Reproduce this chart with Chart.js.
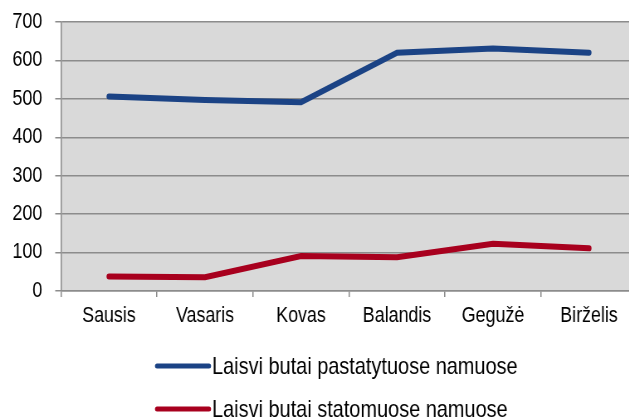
<!DOCTYPE html>
<html>
<head>
<meta charset="utf-8">
<script src="https://cdn.jsdelivr.net/npm/chart.js@4"></script>
<style>
  html, body { margin: 0; padding: 0; background: #fff; overflow: hidden; }
  /* siauresnis sriftas: visas grafikas suspaudziamas horizontaliai */
  #wrap { width: 771px; height: 419px; position: relative; transform: scaleX(0.83); transform-origin: 0 0; }
</style>
</head>
<body>
<div id="wrap"><canvas id="chart"></canvas></div>
<script>
const menesiai = ["Sausis", "Vasaris", "Kovas", "Balandis", "Gegužė", "Birželis"];
const pastatytuose = [506, 497, 491, 620, 631, 620];
const statomuose = [38, 36, 91, 88, 123, 111];
const serijuPavadinimai = ["Laisvi butai pastatytuose namuose", "Laisvi butai statomuose namuose"];
const spalvos = ["#1b4385", "#a8001e"];

const SX = 0.83;
const FONT = "'Liberation Sans', Arial, sans-serif";

// Pilkas fonas grafiko srityje
const fonas = {
    id: "fonas",
    beforeDraw(chart) {
        const a = chart.chartArea;
        const ctx = chart.ctx;
        ctx.save();
        ctx.fillStyle = "#d9d9d9";
        ctx.fillRect(a.left, a.top, a.right - a.left, a.bottom - a.top);
        ctx.restore();
    }
};

// Legenda stulpeliu, po grafiku
const legenda = {
    id: "legenda",
    afterDraw(chart) {
        const ctx = chart.ctx;
        ctx.save();
        ctx.font = "24px " + FONT;
        ctx.textBaseline = "middle";
        chart.data.datasets.forEach((ds, i) => {
            const y = 366 + i * 43;
            ctx.strokeStyle = ds.borderColor;
            ctx.lineWidth = 5;
            ctx.lineCap = "round";
            ctx.beginPath();
            ctx.moveTo(157 / SX, y);
            ctx.lineTo(209 / SX, y);
            ctx.stroke();
            ctx.fillStyle = "#000";
            ctx.fillText(ds.label, 212 / SX, y + 1);
        });
        ctx.restore();
    }
};

new Chart(document.getElementById("chart"), {
    type: "line",
    data: {
        labels: menesiai,
        datasets: [
            {
                label: serijuPavadinimai[0],
                data: pastatytuose,
                borderColor: spalvos[0],
                backgroundColor: spalvos[0],
                borderWidth: 6,
                borderCapStyle: "round",
                pointRadius: 0,
                tension: 0
            },
            {
                label: serijuPavadinimai[1],
                data: statomuose,
                borderColor: spalvos[1],
                backgroundColor: spalvos[1],
                borderWidth: 6,
                borderCapStyle: "round",
                pointRadius: 0,
                tension: 0
            }
        ]
    },
    options: {
        responsive: true,
        maintainAspectRatio: false,
        animation: false,
        layout: { padding: { top: 22, right: 3.5, bottom: 0, left: 0 } },
        plugins: {
            legend: { display: false },
            tooltip: { enabled: false }
        },
        scales: {
            x: {
                offset: true,
                afterFit(scale) { scale.height = 128; },
                grid: {
                    offset: true,
                    drawOnChartArea: false,
                    color: "#8c8c8c",
                    tickLength: 6,
                    lineWidth: 1.5
                },
                border: { color: "#8c8c8c", width: 1.5 },
                ticks: {
                    color: "#000",
                    font: { family: FONT, size: 21.5 },
                    padding: 6,
                    maxRotation: 0
                }
            },
            y: {
                min: 0,
                max: 700,
                afterFit(scale) {
                    scale.width = 61 / SX;
                    scale.paddingTop = 0;
                    scale.paddingBottom = 0;
                },
                grid: {
                    color: "#8c8c8c",
                    tickLength: 7,
                    lineWidth: 1.5
                },
                border: { color: "#8c8c8c", width: 1.5 },
                ticks: {
                    stepSize: 100,
                    color: "#000",
                    font: { family: FONT, size: 21.5 },
                    padding: 15.5
                }
            }
        }
    },
    plugins: [fonas, legenda]
});
</script>
</body>
</html>
